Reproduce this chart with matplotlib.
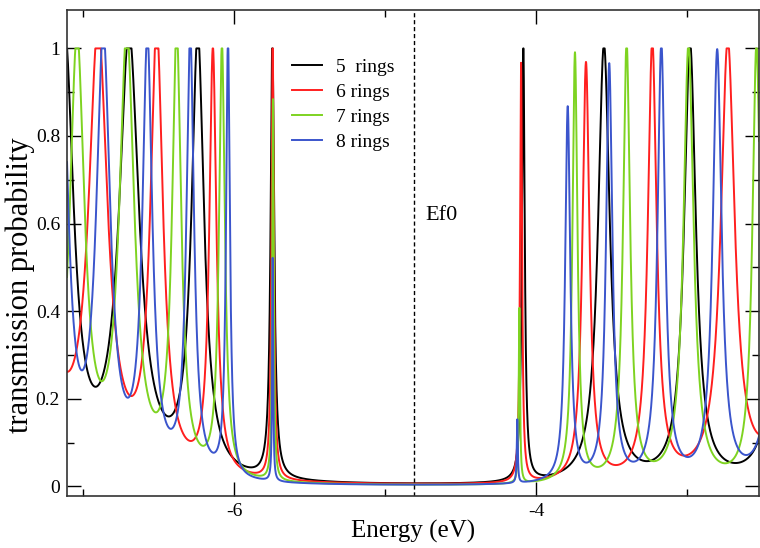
import numpy as np
import matplotlib
matplotlib.use("Agg")
import matplotlib.pyplot as plt
from matplotlib.ticker import MultipleLocator, FixedLocator, FixedFormatter

plt.rcParams['font.family'] = ['Liberation Serif', 'DejaVu Serif']

labels = ['5  rings', '6 rings', '7 rings', '8 rings']
colors = ['black', '#ff1f1f', '#7ed321', '#3b55cc']

# resonance energies (eV), peak heights and half widths
e_5 = [-7.12, -6.695, -6.24, -5.746, -4.084, -3.55, -2.98, -2.37]
h_5 = [1.0, 1.0, 1.0, 1.0, 1.0, 1.0, 1.0, 1.0]
w_5 = [0.07, 0.08, 0.05, 0.014, 0.011, 0.047, 0.047, 0.05]

e_6 = [-7.32, -6.90, -6.512, -6.14, -5.744, -4.099, -3.669, -3.23, -2.73, -2.28]
h_6 = [1.0, 1.0, 1.0, 0.97, 1.0, 0.957, 0.956, 1.0, 1.0, 1.0]
w_6 = [0.085, 0.075, 0.05, 0.028, 0.009, 0.008, 0.028, 0.035, 0.055, 0.055]

e_7 = [-7.04, -6.71, -6.38, -6.08, -5.742, -4.11, -3.742, -3.40, -2.99, -2.54]
h_7 = [1.0, 1.0, 1.0, 0.985, 0.87, 0.4, 0.98, 1.0, 1.0, 1.0]
w_7 = [0.06, 0.06, 0.036, 0.023, 0.006, 0.005, 0.02, 0.028, 0.04, 0.032]

e_8 = [-7.14, -6.866, -6.574, -6.29, -6.04, -5.744, -4.124, -3.79, -3.515, -3.17, -2.80, -2.40]
h_8 = [1.0, 0.99, 0.98, 1.0, 1.0, 0.51, 0.145, 0.855, 0.95, 0.995, 0.98, 1.0]
w_8 = [0.05, 0.055, 0.039, 0.03, 0.015, 0.004, 0.004, 0.02, 0.025, 0.03, 0.035, 0.04]

ef0 = -4.808
ytick_vals = [0, 0.2, 0.4, 0.6, 0.8, 1.0]
ytick_labels = ['0', '0.2', '0.4', '0.6', '0.8', '1']
xtick_vals = [-6, -4]
xtick_labels = ['-6', '-4']
xmin, xmax = -7.106, -2.523


def transmission(E, centers, heights, widths):
    # each resonance drawn as a lorentzian, capped at full transmission
    T = np.zeros_like(E)
    for c, h, w in zip(centers, heights, widths):
        T += h * w ** 2 / ((E - c) ** 2 + w ** 2)
    return np.minimum(T, 1.0)


E = np.linspace(xmin, xmax, 20000)
series = [(e_5, h_5, w_5), (e_6, h_6, w_6), (e_7, h_7, w_7), (e_8, h_8, w_8)]

fig = plt.figure(figsize=(7.6, 5.48), dpi=100)
ax = fig.add_axes([0.0882, 0.095, 0.9105, 0.887])

for (c, h, w), lab, col in zip(series, labels, colors):
    ax.plot(E, transmission(E, c, h, w), color=col, lw=1.4, label=lab)

ax.axvline(ef0, color='black', lw=1.0, dashes=(3, 2))
ax.text(-4.735, 0.608, 'Ef0', fontsize=16, va='baseline', ha='left')

ax.set_xlim(xmin, xmax)
ax.set_ylim(-0.022, 1.088)

ax.xaxis.set_major_locator(FixedLocator(xtick_vals))
ax.xaxis.set_major_formatter(FixedFormatter(xtick_labels))
ax.xaxis.set_minor_locator(MultipleLocator(1))
ax.yaxis.set_major_locator(FixedLocator(ytick_vals))
ax.yaxis.set_major_formatter(FixedFormatter(ytick_labels))
ax.yaxis.set_minor_locator(MultipleLocator(0.1))

ax.tick_params(which='both', direction='in', top=True, right=True, labelsize=14)
ax.tick_params(which='major', length=10, width=1.0, pad=5)
ax.tick_params(which='minor', length=5, width=1.0)
for s in ax.spines.values():
    s.set_linewidth(1.2)
    s.set_color('#333333')

ax.set_xlabel('Energy (eV)', fontsize=18, labelpad=0)
ax.set_ylabel('transmission probability', fontsize=22)
ax.yaxis.set_label_coords(-0.047, 0.434)

ax.legend(loc='upper left', bbox_to_anchor=(0.325, 0.901), frameon=False,
          fontsize=14, handlelength=1.55, handletextpad=0.7, labelspacing=0.39,
          borderaxespad=0, borderpad=0)

fig.savefig('out.png', dpi=100)
